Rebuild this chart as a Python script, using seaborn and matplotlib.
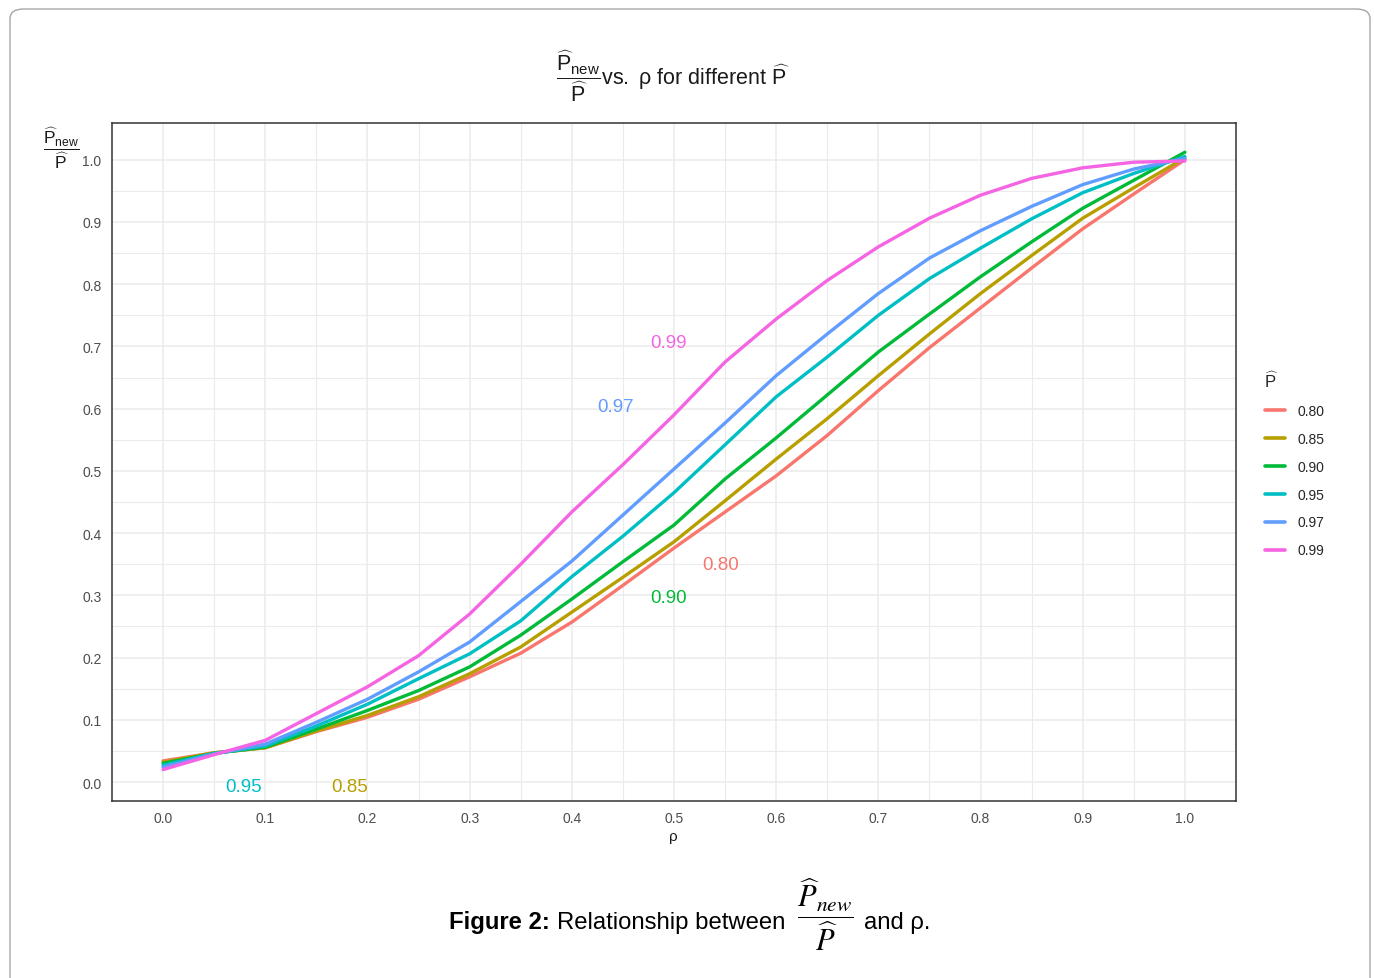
"""
Relationship between P_new/P and rho for different P-hat values
"""
import pandas as pd
import numpy as np
import matplotlib.pyplot as plt
import seaborn as sns
from matplotlib.patches import FancyBboxPatch

# Data
rho = [0.00, 0.05, 0.10, 0.15, 0.20, 0.25, 0.30, 0.35, 0.40, 0.45, 0.50,
       0.55, 0.60, 0.65, 0.70, 0.75, 0.80, 0.85, 0.90, 0.95, 1.00]

p_labels = ['0.80', '0.85', '0.90', '0.95', '0.97', '0.99']

ratio_080 = [0.034, 0.047, 0.055, 0.081, 0.104, 0.133, 0.169, 0.207, 0.257, 0.316, 0.376,
             0.434, 0.492, 0.557, 0.629, 0.698, 0.762, 0.826, 0.889, 0.945, 1.000]
ratio_085 = [0.032, 0.047, 0.055, 0.082, 0.107, 0.137, 0.174, 0.217, 0.273, 0.329, 0.386,
             0.452, 0.519, 0.584, 0.653, 0.720, 0.785, 0.846, 0.906, 0.955, 1.003]
ratio_090 = [0.030, 0.046, 0.056, 0.085, 0.115, 0.147, 0.185, 0.236, 0.294, 0.354, 0.413,
             0.487, 0.553, 0.622, 0.691, 0.752, 0.812, 0.868, 0.922, 0.967, 1.012]
ratio_095 = [0.027, 0.046, 0.058, 0.090, 0.125, 0.166, 0.206, 0.259, 0.330, 0.395, 0.465,
             0.542, 0.619, 0.683, 0.750, 0.809, 0.858, 0.905, 0.947, 0.978, 1.005]
ratio_097 = [0.024, 0.045, 0.061, 0.096, 0.133, 0.177, 0.225, 0.290, 0.355, 0.429, 0.503,
             0.577, 0.653, 0.720, 0.785, 0.842, 0.886, 0.925, 0.960, 0.985, 1.002]
ratio_099 = [0.020, 0.044, 0.067, 0.110, 0.153, 0.203, 0.270, 0.350, 0.434, 0.510, 0.590,
             0.675, 0.744, 0.806, 0.860, 0.906, 0.943, 0.970, 0.987, 0.996, 0.998]

series = [ratio_080, ratio_085, ratio_090, ratio_095, ratio_097, ratio_099]

# in-plot labels: (text, rho, ratio)
annot_text = ['0.99', '0.97', '0.80', '0.90', '0.95', '0.85']
annot_x = [0.495, 0.443, 0.546, 0.495, 0.079, 0.183]
annot_y = [0.706, 0.604, 0.349, 0.297, -0.008, -0.008]

colors = ['#F8766D', '#B79F00', '#00BA38', '#00BFC4', '#619CFF', '#F564E3']
palette = dict(zip(p_labels, colors))

sns.set_style('white')
plt.rcParams['font.family'] = ['Liberation Sans', 'DejaVu Sans']
plt.rcParams['mathtext.fontset'] = 'custom'
plt.rcParams['mathtext.rm'] = 'Liberation Sans'
plt.rcParams['mathtext.it'] = 'Liberation Sans:italic'
plt.rcParams['mathtext.bf'] = 'Liberation Sans:bold'

df = pd.DataFrame({
    'rho': rho * len(p_labels),
    'ratio': [v for s in series for v in s],
    'P': [lab for lab in p_labels for _ in rho],
})

W, H = 1374, 979
fig = plt.figure(figsize=(W / 100, H / 100), dpi=100)

# outer rounded frame
frame = FancyBboxPatch((10 / W, -0.05), 1360 / W, 1.05 - 10 / H,
                       boxstyle='round,pad=0,rounding_size=0.01',
                       transform=fig.transFigure, facecolor='none',
                       edgecolor='#A6A6A6', linewidth=1.0)
fig.patches.append(frame)

ax = fig.add_axes([112 / W, 1 - 802 / H, (1236 - 112) / W, (802 - 124) / H])

sns.lineplot(data=df, x='rho', y='ratio', hue='P', hue_order=p_labels,
             palette=palette, linewidth=2.4, ax=ax)

ax.set_xlim(-0.05, 1.05)
ax.set_ylim(-0.0305, 1.059)
ticks = np.round(np.arange(0, 1.01, 0.1), 1)
ax.set_xticks(ticks)
ax.set_yticks(ticks)
ax.set_xticklabels([f'{t:.1f}' for t in ticks])
ax.set_yticklabels([f'{t:.1f}' for t in ticks])
ax.set_xticks(np.arange(0.05, 1.0, 0.1), minor=True)
ax.set_yticks(np.arange(0.05, 1.0, 0.1), minor=True)
ax.grid(which='major', color='#EBEBEB', linewidth=1.1)
ax.grid(which='minor', color='#EBEBEB', linewidth=0.8)
ax.set_axisbelow(True)
ax.tick_params(which='major', length=3, width=1, color='#333333',
               labelcolor='#4D4D4D', labelsize=10, pad=4.5)
ax.tick_params(which='minor', length=0)
for sp in ax.spines.values():
    sp.set_color('#333333')
    sp.set_linewidth(1.1)
ax.set_xlabel('')
ax.set_ylabel('')

for t, x, y in zip(annot_text, annot_x, annot_y):
    ax.text(x, y, t, color=palette[t], fontsize=13.5, ha='center', va='center')

handles, labels = ax.get_legend_handles_labels()
ax.get_legend().remove()
for h in handles:
    h.set_linewidth(2.6)
fig.legend(handles, labels, title=r'$\widehat{\mathrm{P}}$', loc='upper left',
           bbox_to_anchor=(1252 / W, 1 - 358 / H), frameon=False, fontsize=10,
           title_fontsize=12, handlelength=1.45, handletextpad=0.9,
           labelspacing=1.0, alignment='left')

# title, axis labels
fig.text(673 / W, 1 - 76 / H,
         r'$\dfrac{\widehat{\mathrm{P}}_{\mathrm{new}}}{\widehat{\mathrm{P}}}'
         r'\mathrm{vs.\ ρ\ for\ different}\ \widehat{\mathrm{P}}$',
         fontsize=15.5, ha='center', va='center', color='#1A1A1A')
fig.text(61 / W, 1 - 148 / H,
         r'$\dfrac{\widehat{\mathrm{P}}_{\mathrm{new}}}{\widehat{\mathrm{P}}}$',
         fontsize=12.5, ha='center', va='center', color='#1A1A1A')
fig.text(673 / W, 1 - 837 / H, 'ρ', fontsize=11, ha='center', va='center',
         color='#1A1A1A')

# caption
base = 1 - 929 / H
fig.text(449 / W, base, 'Figure 2:', fontsize=17.2, fontweight='bold',
         ha='left', va='baseline', color='black')
fig.text(557 / W, base, 'Relationship between', fontsize=17.2,
         ha='left', va='baseline', color='black')
fig.text(825 / W, 1 - 915 / H, r'$\dfrac{\widehat{P}_{new}}{\widehat{P}}$',
         fontsize=22, ha='center', va='center', color='black',
         math_fontfamily='stix')
fig.text(864 / W, base, 'and ρ.', fontsize=17.2, ha='left', va='baseline',
         color='black')

fig.savefig('out.png', dpi=100)
